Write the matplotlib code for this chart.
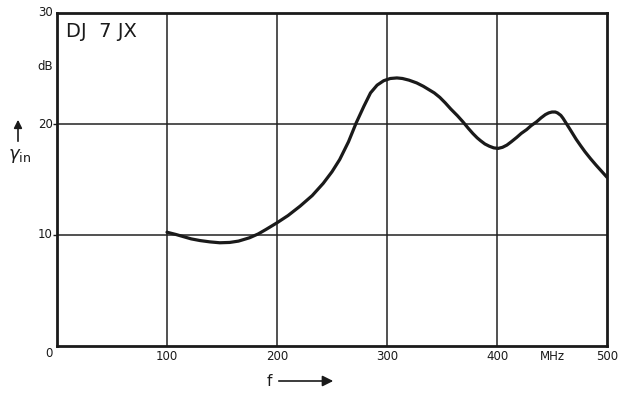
import matplotlib
matplotlib.use("Agg")
import matplotlib.pyplot as plt

# Data
freq_mhz = [100, 108, 115, 122, 130, 139, 148, 157, 165, 175, 183, 190, 200, 210,
            221, 232, 242, 250, 257, 265, 272, 279, 285, 291, 297, 303, 309, 314,
            320, 327, 333, 338, 343, 348, 353, 358, 364, 369, 374, 378, 382, 385,
            389, 393, 397, 401, 405, 409, 413, 418, 422, 427, 431, 436, 440, 444,
            447, 450, 453, 455, 458, 460, 463, 466, 469, 472, 476, 480, 485, 490,
            495, 500]
gain_db = [10.25, 10.05, 9.85, 9.65, 9.5, 9.38, 9.3, 9.33, 9.45, 9.75, 10.1, 10.5,
           11.1, 11.75, 12.6, 13.55, 14.65, 15.7, 16.8, 18.4, 20.1, 21.6, 22.8, 23.5,
           23.9, 24.1, 24.15, 24.1, 23.95, 23.7, 23.4, 23.1, 22.8, 22.4, 21.9, 21.35,
           20.75, 20.2, 19.6, 19.15, 18.75, 18.5, 18.2, 18.0, 17.85, 17.8, 17.9, 18.1,
           18.4, 18.8, 19.15, 19.5, 19.85, 20.2, 20.55, 20.85, 21.0, 21.08, 21.08,
           21.0, 20.78, 20.52, 20.05, 19.58, 19.1, 18.62, 18.05, 17.5, 16.88, 16.3,
           15.75, 15.2]

x_ticks = [100, 200, 300, 400, 500]
y_ticks = [10, 20, 30]

fig = plt.figure(figsize=(6.21, 3.93), dpi=100)
ax = fig.add_axes([57/621, 47/393, 550/621, 333/393])
ax.set_xlim(0, 500)
ax.set_ylim(0, 30)

for x in x_ticks[:-1]:
    ax.axvline(x, color="#222222", lw=1.1, zorder=1)
for y in y_ticks[:-1]:
    ax.axhline(y, color="#222222", lw=1.1, zorder=1)

ax.plot(freq_mhz, gain_db, color="#1a1a1a", lw=2.3, solid_joinstyle="round",
        solid_capstyle="round", zorder=3)

for s in ax.spines.values():
    s.set_linewidth(2.0)
    s.set_color("#1a1a1a")

ax.set_xticks([])
ax.set_yticks([10, 20])
ax.set_yticklabels([])
ax.tick_params(axis="y", direction="out", length=3, width=1.0, color="#1a1a1a")

txt = dict(color="#1a1a1a", fontsize=8.5, family="DejaVu Sans")


def label(x, y, s, dx, dy, ha, va):
    ax.annotate(s, xy=(x, y), xycoords="data", xytext=(dx, dy),
                textcoords="offset points", ha=ha, va=va,
                annotation_clip=False, **txt)


for x in x_ticks:
    label(x, 0, str(x), 0, -3, "center", "top")
label(450, 0, "MHz", 0, -3, "center", "top")
label(0, 0, "0", -3, -1, "right", "top")
for y in y_ticks:
    label(0, y, str(y), -3, 0, "right", "center")
label(0, 25.2, "dB", -3, 0, "right", "center")

ax.text(8, 28.3, "DJ  7 JX", ha="left", va="center", color="#1a1a1a",
        fontsize=14, family="DejaVu Sans")

# axis labels with arrows (figure coords)
fig.text(269/621, 1 - 382/393, "f", ha="center", va="center", fontsize=11,
         color="#1a1a1a")
ax.annotate("", xy=(336/621, 1 - 381/393), xytext=(276/621, 1 - 381/393),
            xycoords="figure fraction", textcoords="figure fraction",
            arrowprops=dict(arrowstyle="-|>", color="#1a1a1a", lw=1.2,
                            mutation_scale=16))
fig.text(20/621, 1 - 156/393, r"$\gamma_{\mathrm{in}}$", ha="center", va="center",
         fontsize=13, color="#1a1a1a")
ax.annotate("", xy=(18/621, 1 - 117/393), xytext=(18/621, 1 - 144/393),
            xycoords="figure fraction", textcoords="figure fraction",
            arrowprops=dict(arrowstyle="-|>", color="#1a1a1a", lw=1.2,
                            mutation_scale=12))

fig.savefig("out.png", dpi=100)
